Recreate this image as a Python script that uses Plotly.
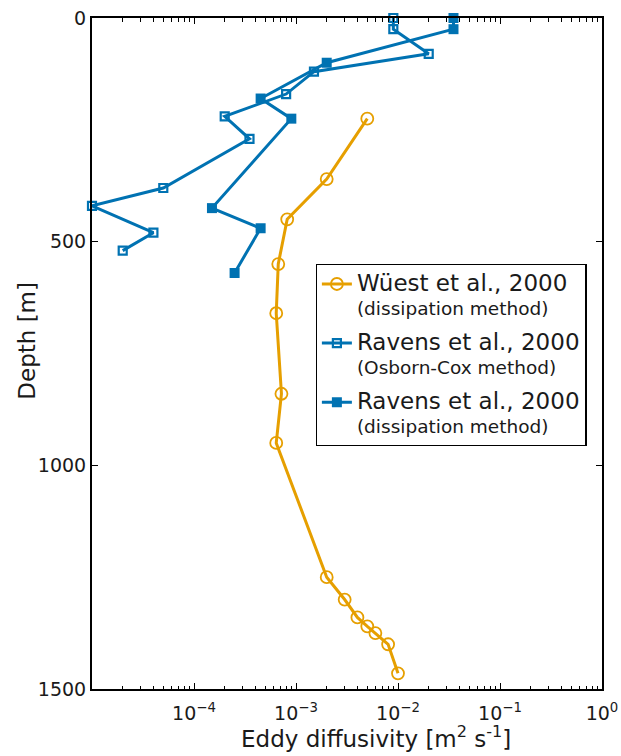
import plotly.graph_objects as go

# Wüest et al., 2000 (dissipation method)
wuest_depth = [225, 360, 450, 550, 660, 840, 950, 1250, 1300, 1340, 1360, 1375, 1400, 1465]
wuest_k = [5e-3, 2e-3, 8.2e-4, 6.7e-4, 6.4e-4, 7.2e-4, 6.4e-4, 2e-3, 3e-3, 4e-3, 5e-3, 6e-3, 8e-3, 1e-2]

# Ravens et al., 2000 (Osborn-Cox method)
oc_depth = [0, 25, 80, 120, 170, 220, 270, 380, 420, 480, 520]
oc_k = [9e-3, 9e-3, 2e-2, 1.5e-3, 8e-4, 2e-4, 3.5e-4, 5e-5, 1e-5, 4e-5, 2e-5]

# Ravens et al., 2000 (dissipation method)
rd_depth = [0, 25, 100, 180, 225, 425, 470, 570]
rd_k = [3.5e-2, 3.5e-2, 2e-3, 4.5e-4, 9e-4, 1.5e-4, 4.5e-4, 2.5e-4]

x_tickvals = [1e-4, 1e-3, 1e-2, 1e-1, 1]
x_ticktext = ["10<sup>−4</sup>", "10<sup>−3</sup>", "10<sup>−2</sup>", "10<sup>−1</sup>", "10<sup>0</sup>"]
y_tickvals = [0, 500, 1000, 1500]

ORANGE = "#E69F00"
BLUE = "#0072B2"
FONT = "DejaVu Sans"
TXT = "#1a1a1a"

minor_vals = [m * 10 ** e for e in range(-5, 0) for m in range(2, 10)]


def legend_label(author, method):
    # large first line, smaller method line underneath
    return f"<span style='font-size:23px'>{author}</span><br>{method}"


fig = go.Figure()
fig.add_trace(go.Scatter(
    x=wuest_k, y=wuest_depth, mode="lines+markers",
    name=legend_label("Wüest et al., 2000", "(dissipation method)"),
    legendgroup="w",
    line=dict(color=ORANGE, width=3),
    marker=dict(symbol="circle-open", size=12, color=ORANGE, line=dict(width=1.8)),
    cliponaxis=False,
))
fig.add_trace(go.Scatter(
    x=oc_k, y=oc_depth, mode="lines+markers",
    name=legend_label("Ravens et al., 2000", "(Osborn-Cox method)"),
    legendgroup="oc",
    line=dict(color=BLUE, width=3),
    marker=dict(symbol="square-open", size=8, color=BLUE, line=dict(width=2.2)),
    cliponaxis=False,
))
fig.add_trace(go.Scatter(
    x=rd_k, y=rd_depth, mode="lines+markers",
    name=legend_label("Ravens et al., 2000", "(dissipation method)"),
    legendgroup="rd",
    line=dict(color=BLUE, width=3),
    marker=dict(symbol="square", size=10, color=BLUE),
    cliponaxis=False,
))

fig.update_layout(
    width=621, height=756,
    margin=dict(l=92, r=19, t=18, b=67, autoexpand=False),
    paper_bgcolor="white", plot_bgcolor="white",
    font=dict(family=FONT, size=19, color=TXT),
    showlegend=True,
    legend=dict(
        x=0.4386, y=0.633, xanchor="left", yanchor="top",
        bgcolor="white", bordercolor="black", borderwidth=1.2,
        font=dict(family=FONT, size=18.5, color=TXT),
        valign="top", tracegroupgap=8, itemwidth=30,
    ),
    annotations=[
        dict(text="Eddy diffusivity [m<sup>2</sup> s<sup>-1</sup>]",
             xref="paper", yref="paper", x=0.557, y=-0.072,
             xanchor="center", yanchor="middle", showarrow=False,
             font=dict(family=FONT, size=23, color=TXT)),
        dict(text="Depth [m]", textangle=-90,
             xref="paper", yref="paper", x=-0.1275, y=0.519,
             xanchor="center", yanchor="middle", showarrow=False,
             font=dict(family=FONT, size=23, color=TXT)),
    ],
)

fig.update_xaxes(
    type="log", range=[-5, 0], automargin=False,
    tickmode="array", tickvals=x_tickvals, ticktext=x_ticktext,
    ticks="inside", ticklen=6, tickwidth=1.2, tickcolor="black",
    ticklabelstandoff=6,
    minor=dict(tickmode="array", tickvals=minor_vals, ticks="inside",
               ticklen=3.5, tickwidth=1, tickcolor="black", showgrid=False),
    showline=True, linecolor="black", linewidth=2, mirror="allticks",
    showgrid=False, zeroline=False,
    tickfont=dict(family=FONT, size=19, color=TXT),
)
fig.update_yaxes(
    range=[1500, 0], automargin=False,
    tickmode="array", tickvals=y_tickvals,
    ticks="inside", ticklen=6, tickwidth=1.2, tickcolor="black",
    showline=True, linecolor="black", linewidth=2, mirror="allticks",
    showgrid=False, zeroline=False,
    tickfont=dict(family=FONT, size=19, color=TXT),
)

fig.write_html("out.html")
